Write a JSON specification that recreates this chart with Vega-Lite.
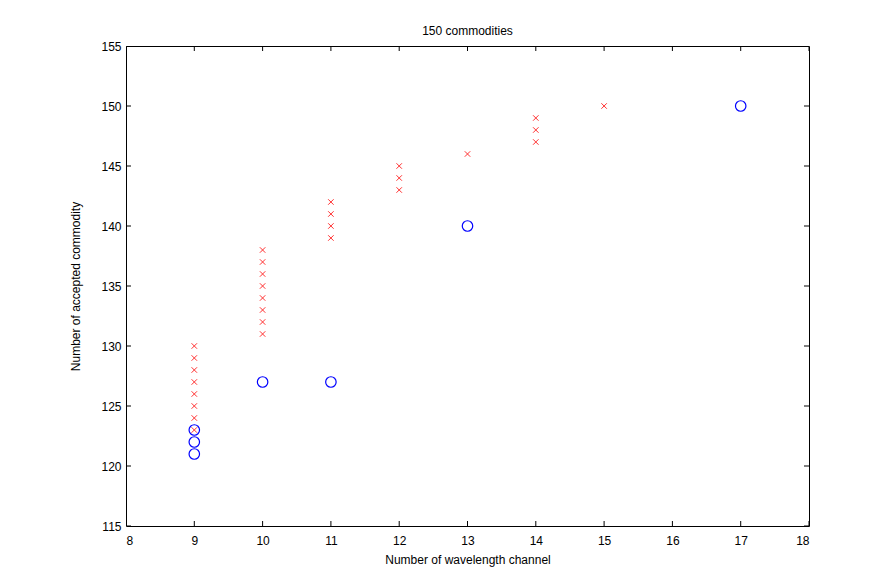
{
  "$schema": "https://vega.github.io/schema/vega-lite/v6.json",
  "autosize": {"type": "none"},
  "padding": {"left": 126, "top": 46, "right": 75, "bottom": 61},
  "width": 683,
  "height": 480,
  "background": "white",
  "title": {"text": "150 commodities", "font": "Liberation Sans", "fontSize": 12, "fontWeight": "normal", "color": "#000", "offset": 2},
  "config": {
    "view": {"stroke": "#000", "strokeWidth": 1},
    "axis": {"grid": false, "domain": false, "ticks": false, "labelFont": "Liberation Sans", "labelFontSize": 12, "labelColor": "#000", "titleFont": "Liberation Sans", "titleFontSize": 12, "titleFontWeight": "normal", "titleColor": "#000"}
  },
  "datasets": {
    "points": [
      {"ch": 9, "acc": 123, "type": "cross"},
      {"ch": 9, "acc": 124, "type": "cross"},
      {"ch": 9, "acc": 125, "type": "cross"},
      {"ch": 9, "acc": 126, "type": "cross"},
      {"ch": 9, "acc": 127, "type": "cross"},
      {"ch": 9, "acc": 128, "type": "cross"},
      {"ch": 9, "acc": 129, "type": "cross"},
      {"ch": 9, "acc": 130, "type": "cross"},
      {"ch": 10, "acc": 131, "type": "cross"},
      {"ch": 10, "acc": 132, "type": "cross"},
      {"ch": 10, "acc": 133, "type": "cross"},
      {"ch": 10, "acc": 134, "type": "cross"},
      {"ch": 10, "acc": 135, "type": "cross"},
      {"ch": 10, "acc": 136, "type": "cross"},
      {"ch": 10, "acc": 137, "type": "cross"},
      {"ch": 10, "acc": 138, "type": "cross"},
      {"ch": 11, "acc": 139, "type": "cross"},
      {"ch": 11, "acc": 140, "type": "cross"},
      {"ch": 11, "acc": 141, "type": "cross"},
      {"ch": 11, "acc": 142, "type": "cross"},
      {"ch": 12, "acc": 143, "type": "cross"},
      {"ch": 12, "acc": 144, "type": "cross"},
      {"ch": 12, "acc": 145, "type": "cross"},
      {"ch": 13, "acc": 146, "type": "cross"},
      {"ch": 14, "acc": 147, "type": "cross"},
      {"ch": 14, "acc": 148, "type": "cross"},
      {"ch": 14, "acc": 149, "type": "cross"},
      {"ch": 15, "acc": 150, "type": "cross"},
      {"ch": 9, "acc": 121, "type": "circle"},
      {"ch": 9, "acc": 122, "type": "circle"},
      {"ch": 9, "acc": 123, "type": "circle"},
      {"ch": 10, "acc": 127, "type": "circle"},
      {"ch": 11, "acc": 127, "type": "circle"},
      {"ch": 13, "acc": 140, "type": "circle"},
      {"ch": 17, "acc": 150, "type": "circle"}
    ],
    "xticks": [{"v": 8}, {"v": 9}, {"v": 10}, {"v": 11}, {"v": 12}, {"v": 13}, {"v": 14}, {"v": 15}, {"v": 16}, {"v": 17}, {"v": 18}],
    "yticks": [{"v": 115}, {"v": 120}, {"v": 125}, {"v": 130}, {"v": 135}, {"v": 140}, {"v": 145}, {"v": 150}, {"v": 155}]
  },
  "layer": [
    {
      "data": {"name": "xticks"},
      "mark": {"type": "tick", "orient": "vertical", "size": 10, "thickness": 1, "color": "#000", "opacity": 1, "clip": true},
      "encoding": {
        "x": {"field": "v", "type": "quantitative", "scale": {"domain": [8, 18], "nice": false, "zero": false}, "axis": {"title": "Number of wavelength channel", "values": [8,9,10,11,12,13,14,15,16,17,18], "format": "d", "labelPadding": 9, "titlePadding": 8}},
        "y": {"datum": 115, "type": "quantitative", "scale": {"domain": [115, 155], "nice": false, "zero": false}, "axis": {"title": "Number of accepted commodity", "values": [115,120,125,130,135,140,145,150,155], "format": "d", "labelPadding": 5, "titlePadding": 18}}
      }
    },
    {
      "data": {"name": "xticks"},
      "mark": {"type": "tick", "orient": "vertical", "size": 10, "thickness": 1, "color": "#000", "opacity": 1, "clip": true},
      "encoding": {
        "x": {"field": "v", "type": "quantitative"},
        "y": {"datum": 155, "type": "quantitative"}
      }
    },
    {
      "data": {"name": "yticks"},
      "mark": {"type": "tick", "orient": "horizontal", "size": 10, "thickness": 1, "color": "#000", "opacity": 1, "clip": true},
      "encoding": {
        "y": {"field": "v", "type": "quantitative"},
        "x": {"datum": 8, "type": "quantitative"}
      }
    },
    {
      "data": {"name": "yticks"},
      "mark": {"type": "tick", "orient": "horizontal", "size": 10, "thickness": 1, "color": "#000", "opacity": 1, "clip": true},
      "encoding": {
        "y": {"field": "v", "type": "quantitative"},
        "x": {"datum": 18, "type": "quantitative"}
      }
    },
    {
      "data": {"name": "points"},
      "transform": [{"filter": "datum.type === 'cross'"}],
      "mark": {"type": "point", "shape": "M-1,-1L1,1M-1,1L1,-1", "size": 30, "filled": false, "stroke": "#ff0000", "strokeWidth": 1, "opacity": 0.8},
      "encoding": {
        "x": {"field": "ch", "type": "quantitative"},
        "y": {"field": "acc", "type": "quantitative"}
      }
    },
    {
      "data": {"name": "points"},
      "transform": [{"filter": "datum.type === 'circle'"}],
      "mark": {"type": "point", "shape": "circle", "size": 110, "filled": false, "stroke": "#0000ff", "strokeWidth": 1.2, "opacity": 1},
      "encoding": {
        "x": {"field": "ch", "type": "quantitative"},
        "y": {"field": "acc", "type": "quantitative"}
      }
    }
  ]
}
